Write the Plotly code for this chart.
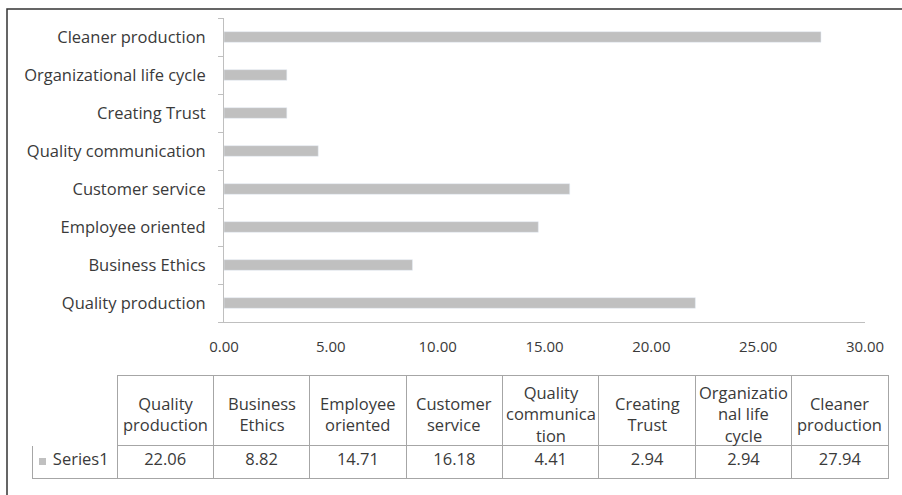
import plotly.graph_objects as go

categories = ["Quality production", "Business Ethics", "Employee oriented", "Customer service",
              "Quality communication", "Creating Trust", "Organizational life cycle", "Cleaner production"]
header_lines = [["Quality", "production"], ["Business", "Ethics"], ["Employee", "oriented"],
                ["Customer", "service"], ["Quality", "communica", "tion"], ["Creating", "Trust"],
                ["Organizatio", "nal life", "cycle"], ["Cleaner", "production"]]
values = [22.06, 8.82, 14.71, 16.18, 4.41, 2.94, 2.94, 27.94]
series_name = "Series1"
x_ticks = [0, 5, 10, 15, 20, 25, 30]

W, H = 902, 495
BAR = "#c0c0c0"
AXIS = "#bfbfbf"
TLINE = "#a6a6a6"
TXT = "#3a3a3a"
FONT = "Open Sans"
FS = 16.5

# table geometry (pixels)
T_LEFT, T_RIGHT, T_TOP, T_BOTTOM = 32, 888, 375.5, 478
HEAD_H, CELL_H = 69.5, 33
FIRST_W = 85
col_w = [FIRST_W] + [(T_RIGHT - T_LEFT - FIRST_W) / len(values)] * len(values)

fig = go.Figure()
fig.add_trace(go.Bar(y=categories, x=values, orientation="h", marker_color=BAR,
                     width=0.28, showlegend=False, hoverinfo="skip"))

NB = "\u00a0"
cell_vals = [[NB * 3 + series_name]] + [[f"{v:.2f}"] for v in values]

fig.add_trace(go.Table(
    domain=dict(x=[T_LEFT / W, T_RIGHT / W], y=[1 - (T_BOTTOM + 2) / H, 1 - T_TOP / H]),
    columnwidth=col_w,
    header=dict(values=[""] * (len(values) + 1), height=HEAD_H, fill_color="white",
                line=dict(color=["white"] + [TLINE] * len(values), width=1)),
    cells=dict(values=cell_vals, height=CELL_H, fill_color="white",
               line=dict(color=TLINE, width=1),
               align=["left"] + ["center"] * len(values),
               font=dict(family=FONT, size=FS, color=TXT)),
))

# header labels, centred in each header cell
annotations = []
x_edge = T_LEFT + FIRST_W
for lines, w in zip(header_lines, col_w[1:]):
    annotations.append(dict(xref="paper", yref="paper", x=(x_edge + w / 2) / W,
                            y=1 - (T_TOP + HEAD_H / 2 + 3.5) / H, text="<br>".join(lines),
                            showarrow=False, align="center", xanchor="center", yanchor="middle",
                            font=dict(family=FONT, size=FS, color=TXT)))
    x_edge += w

fig.update_layout(
    width=W, height=H, margin=dict(l=0, r=0, t=0, b=0, autoexpand=False),
    paper_bgcolor="white", plot_bgcolor="white",
    font=dict(family=FONT, size=FS, color=TXT),
    xaxis=dict(domain=[224 / W, 865 / W], range=[0, 30], tickvals=x_ticks,
               ticktext=[f"{t:.2f}" for t in x_ticks], showgrid=False, zeroline=False,
               showline=True, linecolor=AXIS, linewidth=1, ticks="", automargin=False,
               ticklabelstandoff=11, tickfont=dict(size=15, color=TXT)),
    yaxis=dict(domain=[1 - 322 / H, 1 - 18 / H], showgrid=False, showline=True,
               linecolor=AXIS, linewidth=1, ticks="outside", tickson="boundaries",
               ticklen=5, tickcolor=AXIS, ticklabelstandoff=14, automargin=False,
               tickfont=dict(size=16.5, color=TXT)),
    annotations=annotations,
    shapes=[
        dict(type="rect", xref="paper", yref="paper", x0=7 / W, x1=1.02, y0=-0.02, y1=1 - 9 / H,
             line=dict(color="#333333", width=1.5), fillcolor="rgba(0,0,0,0)", layer="above"),
        # legend key of the data table
        dict(type="rect", xref="paper", yref="paper", x0=39 / W, x1=46 / W,
             y0=1 - 465 / H, y1=1 - 458 / H, line=dict(width=0), fillcolor=BAR, layer="above"),
    ],
)

fig.write_html("out.html", config={"displayModeBar": False},
               post_script="document.body.style.margin='0';document.body.style.padding='0';")
